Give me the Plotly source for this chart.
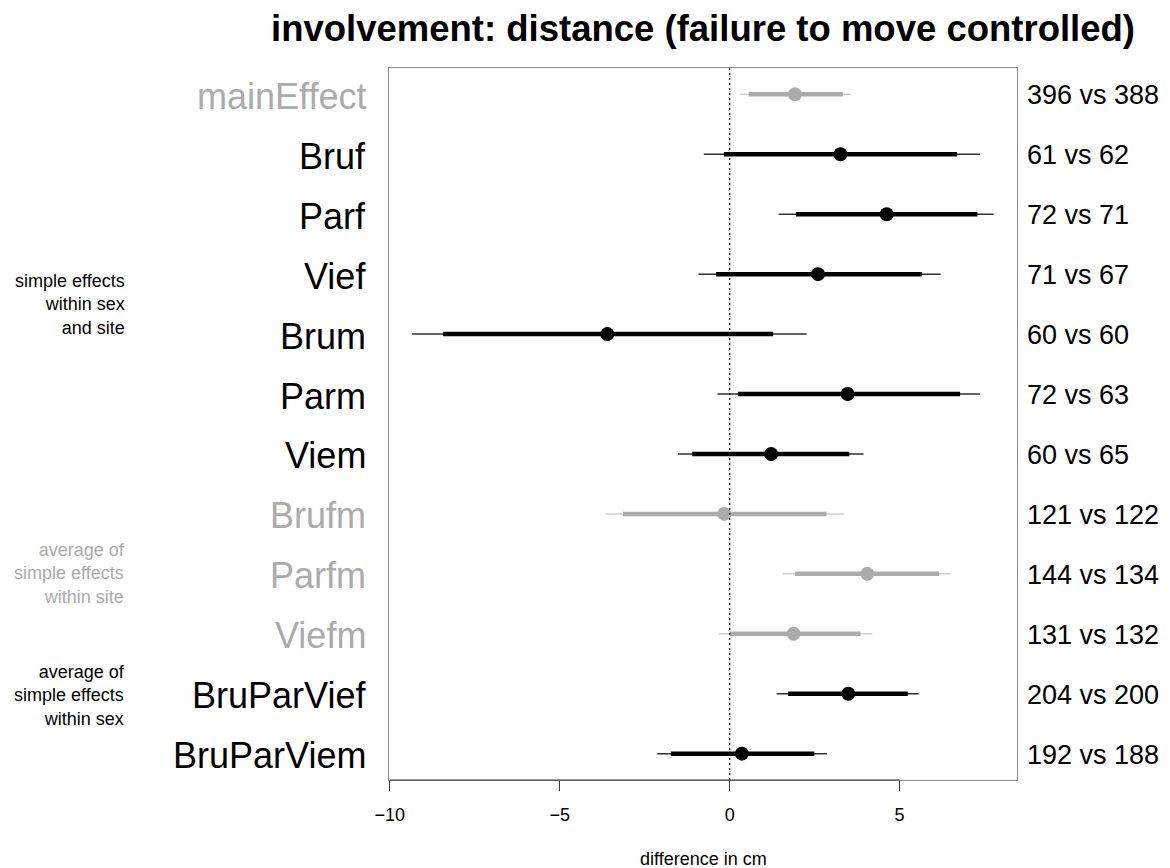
import plotly.graph_objects as go

# ---------------- data ----------------
labels = ["mainEffect", "Bruf", "Parf", "Vief", "Brum", "Parm", "Viem",
          "Brufm", "Parfm", "Viefm", "BruParVief", "BruParViem"]
estimate = [1.92, 3.26, 4.62, 2.60, -3.60, 3.47, 1.22, -0.16, 4.05, 1.88, 3.49, 0.36]
lo_outer = [0.30, -0.76, 1.44, -0.92, -9.34, -0.36, -1.52, -3.66, 1.56, -0.31, 1.38, -2.13]
hi_outer = [3.56, 7.36, 7.77, 6.21, 2.26, 7.36, 3.94, 3.37, 6.52, 4.20, 5.56, 2.86]
lo_inner = [0.56, -0.17, 1.95, -0.40, -8.43, 0.24, -1.10, -3.14, 1.92, 0.00, 1.72, -1.73]
hi_inner = [3.33, 6.69, 7.29, 5.65, 1.28, 6.78, 3.52, 2.85, 6.16, 3.85, 5.24, 2.49]
counts = ["396 vs 388", "61 vs 62", "72 vs 71", "71 vs 67", "60 vs 60", "72 vs 63",
          "60 vs 65", "121 vs 122", "144 vs 134", "131 vs 132", "204 vs 200", "192 vs 188"]
is_grey = [True, False, False, False, False, False, False, True, True, True, False, False]
group_texts = ["simple effects<br>within sex<br>and site",
               "average of<br>simple effects<br>within site",
               "average of<br>simple effects<br>within sex"]
group_grey = [False, True, False]
x_ticks = [-10, -5, 0, 5]
title_text = "involvement: distance (failure to move controlled)"
x_title = "difference in cm"

# ---------------- styling ----------------
FONT = "Liberation Sans, Arial, Helvetica, sans-serif"
GREY = "#ababab"
BLACK = "#000000"
group_rows = [4.5, 9, 11.03]   # vertical anchor (row units) of group captions

n = len(labels)
rows = list(range(1, n + 1))

fig = go.Figure()


def segs(lo, hi, sel):
    xs, ys = [], []
    for i in range(n):
        if sel[i]:
            xs += [lo[i], hi[i], None]
            ys += [rows[i], rows[i], None]
    return xs, ys


black_sel = [not g for g in is_grey]
for sel, thin_col, thick_col, pt_col in [(is_grey, "#d0d0d0", GREY, GREY),
                                         (black_sel, "#303030", BLACK, BLACK)]:
    xs, ys = segs(lo_outer, hi_outer, sel)
    fig.add_trace(go.Scatter(x=xs, y=ys, mode="lines",
                             line=dict(color=thin_col, width=1.5), hoverinfo="skip"))
    xs, ys = segs(lo_inner, hi_inner, sel)
    fig.add_trace(go.Scatter(x=xs, y=ys, mode="lines",
                             line=dict(color=thick_col, width=4.5), hoverinfo="skip"))
    fig.add_trace(go.Scatter(x=[estimate[i] for i in range(n) if sel[i]],
                             y=[rows[i] for i in range(n) if sel[i]],
                             mode="markers",
                             marker=dict(color=pt_col, size=14, line=dict(width=0))))

# R-like 4% axis padding
lo_all, hi_all = min(lo_outer), max(hi_outer)
xpad = 0.04 * (hi_all - lo_all)
ypad = 0.04 * (n - 1)

# zero reference line
fig.add_shape(type="line", xref="x", yref="paper", x0=0, x1=0, y0=0, y1=1,
              line=dict(color="#222222", width=1.3, dash="2px,3px"))
# axis segment spanning the ticks
fig.add_shape(type="line", xref="x", yref="paper", x0=min(x_ticks), x1=max(x_ticks),
              y0=0, y1=0, line=dict(color="#333333", width=1.2))

annotations = []
for i in range(n):
    col = GREY if is_grey[i] else BLACK
    annotations.append(dict(xref="paper", yref="y", x=0, y=rows[i], xanchor="right",
                            yanchor="middle", xshift=-21, yshift=-2, text=labels[i],
                            showarrow=False,
                            font=dict(family=FONT, size=36, color=col)))
    annotations.append(dict(xref="paper", yref="y", x=1, y=rows[i], xanchor="left",
                            yanchor="middle", xshift=8, yshift=-1, text=counts[i],
                            showarrow=False,
                            font=dict(family=FONT, size=27, color=BLACK)))
for txt, gy, gg in zip(group_texts, group_rows, group_grey):
    annotations.append(dict(xref="paper", yref="y", x=0, y=gy, xanchor="right",
                            yanchor="middle", xshift=-262, text=txt, align="right",
                            showarrow=False,
                            font=dict(family=FONT, size=18, color=GREY if gg else BLACK)))
annotations.append(dict(xref="paper", yref="paper", x=0.5, y=0, yanchor="middle",
                        yshift=-79, text=x_title, showarrow=False,
                        font=dict(family=FONT, size=18, color=BLACK)))

fig.update_layout(
    width=1170, height=868,
    margin=dict(l=389, r=153, t=68, b=88),
    paper_bgcolor="white", plot_bgcolor="white",
    showlegend=False,
    title=dict(text="<b>" + title_text + "</b>", x=0.5, xref="paper", xanchor="center",
               y=1 - 28 / 868, yref="container", yanchor="middle",
               font=dict(family=FONT, size=36.5, color=BLACK)),
    annotations=annotations,
    xaxis=dict(range=[lo_all - xpad, hi_all + xpad], tickvals=x_ticks,
               ticks="outside", ticklen=10, tickwidth=1.2, tickcolor="#333333",
               ticklabelstandoff=8,
               showline=True, mirror=True, linecolor="#8a8a8a", linewidth=1.2,
               showgrid=False, zeroline=False,
               tickfont=dict(family=FONT, size=18, color=BLACK)),
    yaxis=dict(range=[n + ypad, 1 - ypad], showticklabels=False, ticks="",
               showline=True, mirror=True, linecolor="#8a8a8a", linewidth=1.2,
               showgrid=False, zeroline=False),
)

fig.write_html("out.html", config={"displayModeBar": False},
               post_script="document.body.style.margin='0';document.body.style.overflow='hidden';")
